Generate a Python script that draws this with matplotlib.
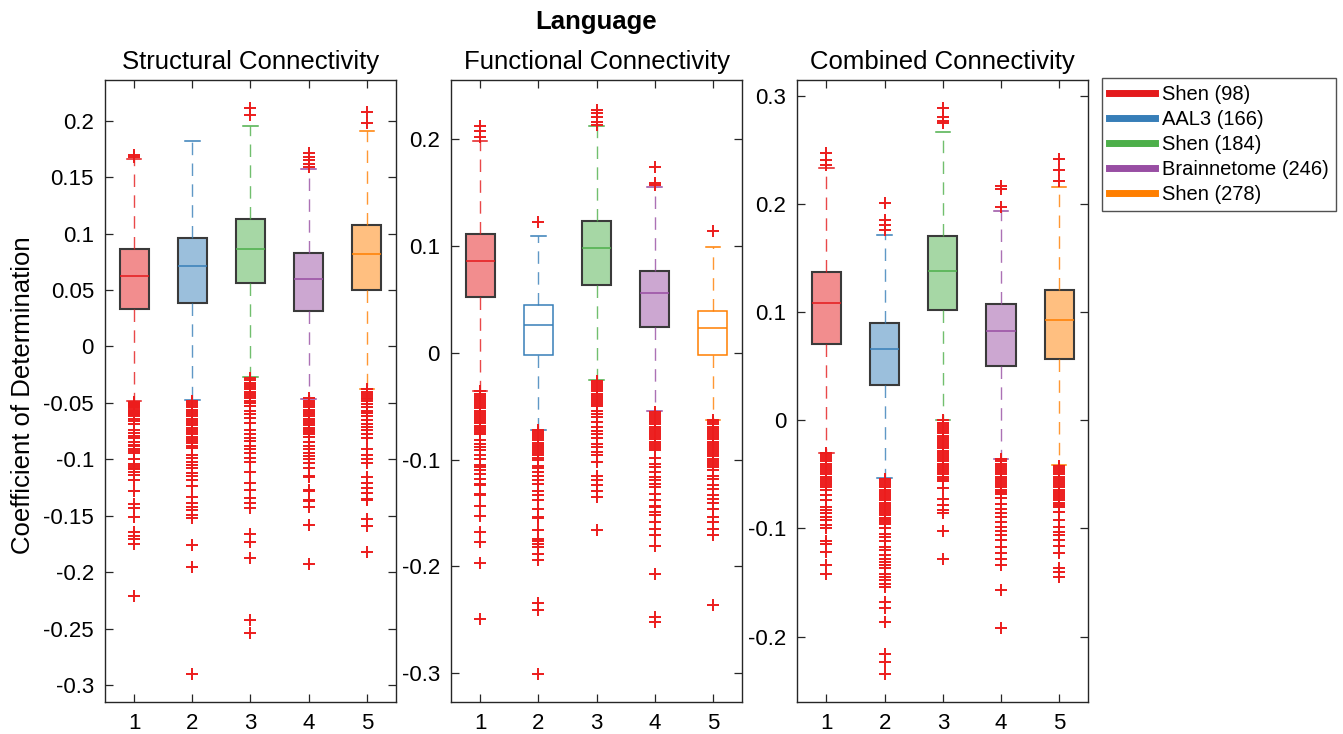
import matplotlib
matplotlib.use('Agg')
import matplotlib.pyplot as plt
from matplotlib.lines import Line2D
from matplotlib.colors import to_rgb
from matplotlib.ticker import FuncFormatter, MultipleLocator

plt.rcParams['font.family'] = ['Liberation Sans', 'DejaVu Sans']
plt.rcParams['axes.unicode_minus'] = False

# ---------------- data ----------------
groups = [1, 2, 3, 4, 5]
atlas_labels = ['Shen (98)', 'AAL3 (166)', 'Shen (184)', 'Brainnetome (246)', 'Shen (278)']
panel_titles = ['Structural Connectivity', 'Functional Connectivity', 'Combined Connectivity']
colors = ['#e41a1c', '#377eb8', '#4daf4a', '#984ea3', '#ff7f00']

# Structural
struct_med = [0.0627, 0.0715, 0.0866, 0.0597, 0.0816]
struct_q1 = [0.0328, 0.0384, 0.0558, 0.0316, 0.0499]
struct_q3 = [0.0866, 0.0957, 0.1126, 0.0830, 0.1079]
struct_lo = [-0.0485, -0.0476, -0.0275, -0.0464, -0.0375]
struct_hi = [0.166, 0.1817, 0.1956, 0.157, 0.1909]
struct_fliers = [
    [0.168, 0.170,
     -0.049, -0.050, -0.051, -0.052, -0.053, -0.054, -0.055, -0.056, -0.057, -0.058, -0.059,
     -0.060, -0.061, -0.062, -0.064, -0.066, -0.069, -0.074, -0.077, -0.079, -0.081, -0.085,
     -0.087, -0.088, -0.091, -0.093, -0.094, -0.100, -0.104, -0.106, -0.108, -0.109, -0.111,
     -0.114, -0.118, -0.128, -0.140, -0.143, -0.151, -0.164, -0.168, -0.171, -0.175, -0.221],
    [-0.048, -0.050, -0.052, -0.054, -0.056, -0.058, -0.060, -0.062, -0.064, -0.066, -0.068,
     -0.070, -0.072, -0.074, -0.076, -0.078, -0.080, -0.082, -0.084, -0.086, -0.088, -0.090,
     -0.096, -0.099, -0.102, -0.105, -0.108, -0.112, -0.115, -0.118, -0.124, -0.133, -0.139,
     -0.142, -0.145, -0.149, -0.152, -0.176, -0.195, -0.290],
    [0.205, 0.211,
     -0.028, -0.030, -0.032, -0.034, -0.036, -0.038, -0.040, -0.042, -0.044, -0.046, -0.048,
     -0.050, -0.053, -0.057, -0.060, -0.063, -0.068, -0.074, -0.078, -0.081, -0.084, -0.088,
     -0.091, -0.094, -0.099, -0.102, -0.111, -0.121, -0.127, -0.134, -0.139, -0.143, -0.166,
     -0.173, -0.187, -0.242, -0.254],
    [0.159, 0.162, 0.165, 0.168, 0.171,
     -0.046, -0.048, -0.050, -0.052, -0.054, -0.056, -0.058, -0.060, -0.062, -0.064, -0.066,
     -0.068, -0.070, -0.072, -0.074, -0.076, -0.078, -0.080, -0.085, -0.088, -0.091, -0.094,
     -0.097, -0.100, -0.103, -0.108, -0.115, -0.116, -0.127, -0.128, -0.136, -0.137, -0.142,
     -0.158, -0.193],
    [0.198, 0.208,
     -0.038, -0.040, -0.042, -0.044, -0.046, -0.047, -0.048, -0.051, -0.054, -0.057, -0.059,
     -0.062, -0.065, -0.069, -0.071, -0.074, -0.078, -0.081, -0.091, -0.096, -0.100, -0.103,
     -0.116, -0.121, -0.125, -0.130, -0.135, -0.136, -0.153, -0.159, -0.182],
]

# Functional
func_med = [0.086, 0.0266, 0.0979, 0.056, 0.0233]
func_q1 = [0.0525, -0.0015, 0.0641, 0.0244, -0.0015]
func_q3 = [0.1116, 0.0447, 0.1235, 0.0769, 0.0391]
func_lo = [-0.0359, -0.0719, -0.0256, -0.0544, -0.0631]
func_hi = [0.199, 0.110, 0.213, 0.155, 0.0988]
func_fliers = [
    [0.202, 0.208, 0.2126,
     -0.036, -0.038, -0.040, -0.042, -0.044, -0.046, -0.048, -0.050, -0.052, -0.054, -0.056,
     -0.058, -0.060, -0.062, -0.064, -0.066, -0.068, -0.070, -0.072, -0.074, -0.076, -0.082,
     -0.085, -0.088, -0.091, -0.096, -0.099, -0.105, -0.107, -0.110, -0.113, -0.118, -0.123,
     -0.124, -0.132, -0.133, -0.143, -0.153, -0.168, -0.177, -0.197, -0.249],
    [0.1228,
     -0.072, -0.074, -0.076, -0.078, -0.080, -0.082, -0.084, -0.086, -0.088, -0.090, -0.092,
     -0.094, -0.096, -0.098, -0.100, -0.106, -0.108, -0.112, -0.115, -0.119, -0.123, -0.129,
     -0.133, -0.138, -0.146, -0.154, -0.155, -0.166, -0.174, -0.176, -0.179, -0.182, -0.188,
     -0.194, -0.234, -0.241, -0.301],
    [0.214, 0.216, 0.2215, 0.2245, 0.228,
     -0.026, -0.028, -0.030, -0.032, -0.034, -0.036, -0.038, -0.040, -0.042, -0.044, -0.046,
     -0.048, -0.050, -0.054, -0.057, -0.060, -0.065, -0.069, -0.073, -0.076, -0.080, -0.085,
     -0.088, -0.093, -0.096, -0.102, -0.115, -0.119, -0.124, -0.129, -0.135, -0.166],
    [0.157, 0.159, 0.1745,
     -0.055, -0.057, -0.059, -0.061, -0.063, -0.065, -0.067, -0.069, -0.071, -0.073, -0.075,
     -0.077, -0.079, -0.081, -0.083, -0.085, -0.087, -0.089, -0.091, -0.098, -0.104, -0.107,
     -0.112, -0.116, -0.119, -0.123, -0.126, -0.132, -0.138, -0.143, -0.144, -0.149, -0.152,
     -0.158, -0.165, -0.171, -0.181, -0.207, -0.247, -0.252],
    [0.1144,
     -0.063, -0.065, -0.067, -0.069, -0.071, -0.073, -0.075, -0.077, -0.079, -0.081, -0.083,
     -0.085, -0.087, -0.089, -0.091, -0.093, -0.095, -0.097, -0.099, -0.101, -0.103, -0.105,
     -0.107, -0.110, -0.115, -0.118, -0.124, -0.127, -0.133, -0.137, -0.141, -0.146, -0.154,
     -0.158, -0.165, -0.171, -0.236],
]

# Combined
comb_med = [0.1089, 0.0657, 0.1386, 0.083, 0.0929]
comb_q1 = [0.0706, 0.033, 0.1024, 0.0506, 0.0565]
comb_q3 = [0.1373, 0.0904, 0.1703, 0.1077, 0.1206]
comb_lo = [-0.030, -0.0537, 0.0, -0.0358, -0.0414]
comb_hi = [0.234, 0.172, 0.2673, 0.1935, 0.2163]
comb_fliers = [
    [0.236, 0.241, 0.2472,
     -0.030, -0.032, -0.034, -0.036, -0.038, -0.040, -0.042, -0.044, -0.046, -0.048, -0.050,
     -0.052, -0.054, -0.056, -0.058, -0.060, -0.062, -0.064, -0.069, -0.074, -0.080, -0.083,
     -0.086, -0.089, -0.092, -0.097, -0.100, -0.112, -0.114, -0.122, -0.134, -0.142],
    [0.176, 0.181, 0.1855, 0.2009,
     -0.054, -0.056, -0.058, -0.060, -0.062, -0.064, -0.066, -0.068, -0.070, -0.072, -0.074,
     -0.076, -0.078, -0.080, -0.082, -0.084, -0.086, -0.088, -0.090, -0.092, -0.094, -0.096,
     -0.100, -0.105, -0.108, -0.112, -0.117, -0.120, -0.125, -0.128, -0.131, -0.134, -0.137,
     -0.142, -0.145, -0.148, -0.151, -0.154, -0.168, -0.174, -0.187, -0.216, -0.224, -0.235],
    [0.275, 0.277, 0.281, 0.2889,
     0.0, -0.002, -0.004, -0.006, -0.008, -0.010, -0.012, -0.014, -0.016, -0.018, -0.020,
     -0.022, -0.024, -0.026, -0.028, -0.030, -0.032, -0.034, -0.036, -0.038, -0.040, -0.042,
     -0.044, -0.046, -0.048, -0.050, -0.052, -0.054, -0.056, -0.063, -0.073, -0.078, -0.083,
     -0.086, -0.102, -0.128],
    [0.1978, 0.214, 0.217,
     -0.036, -0.038, -0.040, -0.042, -0.044, -0.046, -0.048, -0.050, -0.052, -0.054, -0.056,
     -0.058, -0.060, -0.062, -0.064, -0.066, -0.068, -0.072, -0.077, -0.082, -0.086, -0.089,
     -0.094, -0.099, -0.102, -0.106, -0.111, -0.117, -0.123, -0.128, -0.134, -0.157, -0.192],
    [0.2216, 0.232, 0.242,
     -0.042, -0.044, -0.046, -0.048, -0.050, -0.052, -0.054, -0.056, -0.058, -0.060, -0.062,
     -0.064, -0.066, -0.068, -0.070, -0.072, -0.074, -0.076, -0.078, -0.080, -0.085, -0.092,
     -0.099, -0.103, -0.106, -0.111, -0.116, -0.123, -0.137, -0.140, -0.145],
]

panels = [
    (struct_med, struct_q1, struct_q3, struct_lo, struct_hi, struct_fliers),
    (func_med, func_q1, func_q3, func_lo, func_hi, func_fliers),
    (comb_med, comb_q1, comb_q3, comb_lo, comb_hi, comb_fliers),
]
hollow = [[], [1, 4], []]  # boxes drawn without fill
ylims = [(-0.315, 0.236), (-0.327, 0.2557), (-0.2606, 0.315)]
ysteps = [0.05, 0.1, 0.1]

# ---------------- figure ----------------
W, H = 1343, 734
fig = plt.figure(figsize=(W / 100, H / 100), dpi=100)
lefts = [105, 451, 797.3]
axw = 291
top_px, bot_px = 80, 702
spine_col = '#262626'


def lighten(c, a=0.5):
    r, g, b = to_rgb(c)
    return (1 - a + a * r, 1 - a + a * g, 1 - a + a * b)


for p, (med, q1, q3, lo, hi, fl) in enumerate(panels):
    ax = fig.add_axes([lefts[p] / W, 1 - bot_px / H, axw / W, (bot_px - top_px) / H])
    stats = []
    for i in range(len(groups)):
        stats.append(dict(med=med[i], q1=q1[i], q3=q3[i], whislo=lo[i], whishi=hi[i],
                          fliers=fl[i], label=str(groups[i])))
    art = ax.bxp(stats, positions=groups, widths=0.5, capwidths=0.25, patch_artist=True,
                 showfliers=True,
                 flierprops=dict(marker='+', markeredgecolor='#ec1c1c', markersize=9,
                                 markeredgewidth=1.4, linestyle='none'))
    for i, c in enumerate(colors):
        box = art['boxes'][i]
        if i in hollow[p]:
            box.set_facecolor('white')
            box.set_edgecolor(c)
            box.set_linewidth(1.1)
        else:
            box.set_facecolor(lighten(c))
            box.set_edgecolor('#3a3a3a')
            box.set_linewidth(1.5)
        art['medians'][i].set_color(c)
        art['medians'][i].set_linewidth(1.1)
        for w in art['whiskers'][2 * i:2 * i + 2]:
            w.set_color(c)
            w.set_alpha(0.8)
            w.set_linewidth(1.0)
            w.set_linestyle((0, (9, 6)))
        for cp in art['caps'][2 * i:2 * i + 2]:
            cp.set_color(c)
            cp.set_linewidth(1.1)
        art['fliers'][i].set_zorder(4)
    ax.set_xlim(0.5, 5.5)
    ax.set_ylim(*ylims[p])
    ax.yaxis.set_major_locator(MultipleLocator(ysteps[p]))
    ax.yaxis.set_major_formatter(FuncFormatter(lambda v, pos: '%g' % round(v, 4)))
    ax.tick_params(direction='in', top=True, right=True, length=6, width=0.9,
                   color=spine_col, labelsize=16, pad=8)
    for s in ax.spines.values():
        s.set_color(spine_col)
        s.set_linewidth(1.0)
    ax.set_title(panel_titles[p], fontsize=18.5, pad=8)

fig.text(596 / W, 1 - 22 / H, 'Language', ha='center', va='center',
         fontsize=18.5, fontweight='bold')
fig.text(23 / W, 1 - 395 / H, 'Coefficient of Determination', rotation=90,
         ha='center', va='center', fontsize=18.5)

handles = [Line2D([0], [0], color=c, lw=5) for c in colors]
leg = fig.legend(handles, atlas_labels, loc='upper left',
                 bbox_to_anchor=(1102 / W, 1 - 78 / H), fontsize=14.5,
                 frameon=True, fancybox=False, handlelength=2.3, handletextpad=0.35,
                 labelspacing=0.3, borderpad=0.35, borderaxespad=0)
leg.get_frame().set_edgecolor(spine_col)
leg.get_frame().set_linewidth(1.0)

fig.savefig('out.png', dpi=100)
